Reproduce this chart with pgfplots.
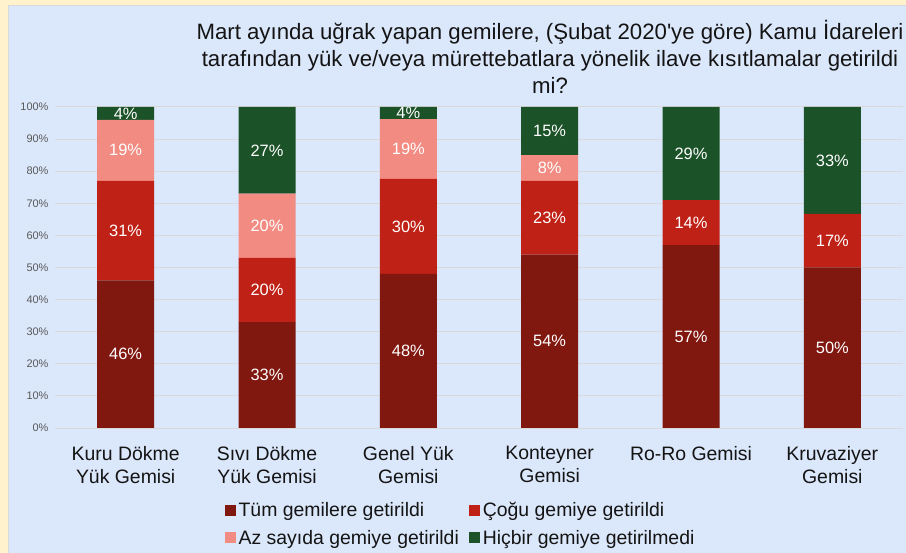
\documentclass[border=0pt]{standalone}
\usepackage{pgfplots}
\pgfplotsset{compat=1.18}
\usepackage{pgfplotstable}
\usepackage{fontspec}
\setmainfont{Liberation Sans}
\definecolor{cTum}{RGB}{128,24,16}
\definecolor{cCogu}{RGB}{192,33,22}
\definecolor{cAz}{RGB}{242,139,130}
\definecolor{cHic}{RGB}{27,82,40}
\definecolor{bgblue}{RGB}{219,231,250}
\definecolor{cream}{RGB}{255,242,204}
\definecolor{gridgray}{RGB}{217,217,217}
\definecolor{tickgray}{RGB}{89,89,89}
\definecolor{txt}{RGB}{20,20,20}
\pgfplotstableread{
x tum cogu az hic
0 46 31 19 4
1 33 20 20 27
2 48 29.6 18.6 3.8
3 54 23 8 15
4 57 14 0 29
5 50 16.7 0 33.3
}\data
\begin{document}
\begin{tikzpicture}
\useasboundingbox (0,0) rectangle (906bp,553bp);
\fill[cream] (0,0) rectangle (906bp,553bp);
\fill[bgblue, draw=gridgray, line width=0.6bp] (8bp,-1bp) rectangle (907bp,548bp);
\node[align=center, text=txt, font=\fontsize{22.3}{27}\selectfont] at (550bp,496bp)
 {Mart ayında uğrak yapan gemilere, (Şubat 2020\textquotesingle ye göre) Kamu İdareleri\\
  tarafından yük ve/veya mürettebatlara yönelik ilave kısıtlamalar getirildi\\ mi?};
\begin{axis}[
  at={(55bp,125bp)}, anchor=south west,
  scale only axis, width=848bp, height=321bp,
  ybar stacked, bar width=57bp,
  xmin=-0.5, xmax=5.5, ymin=0, ymax=100,
  xtick={0,1,2,3,4,5},
  xticklabels={Kuru Dökme\\Yük Gemisi, Sıvı Dökme\\Yük Gemisi, Genel Yük\\Gemisi, Konteyner\\Gemisi, Ro-Ro Gemisi, Kruvaziyer\\Gemisi},
  xticklabel style={align=center, anchor=north, text=txt, font=\fontsize{19.5}{23}\selectfont, yshift=-15bp},
  ytick={0,10,...,100},
  yticklabels={0\%,10\%,20\%,30\%,40\%,50\%,60\%,70\%,80\%,90\%,100\%},
  yticklabel style={text=tickgray, font=\fontsize{11}{13}\selectfont, xshift=-3bp},
  ymajorgrids, grid style={color=gridgray, line width=1bp},
  axis line style={draw=none},
  major tick length=0pt,
  tick style={draw=none},
  nodes near coords={\pgfmathparse{\segval>0.5 ? 1 : 0}\ifnum\pgfmathresult=1 \pgfmathprintnumber[fixed,precision=0,assume math mode=true]{\segval}\%\fi},
  every node near coord/.append style={anchor=center, text=white, font=\fontsize{16.5}{18}\selectfont},
  every axis plot post/.append style={legend image code/.code={\path[##1,draw=none] (0bp,-5.5bp) rectangle (11bp,5.5bp);}},
  legend columns=2,
  legend cell align=left,
  legend style={at={(axis description cs:0.4788,-0.299)}, anchor=center, draw=none, fill=none,
    font=\fontsize{19.5}{23}\selectfont, text=txt, row sep=10bp,
    /tikz/every even column/.append style={column sep=7bp},
    nodes={inner xsep=3bp, inner ysep=1bp}},
]
\addplot[fill=cTum, draw=none, visualization depends on={\thisrow{tum} \as \segval}] table[x=x,y=tum] {\data};
\addlegendentry{Tüm gemilere getirildi}
\addplot[fill=cCogu, draw=none, visualization depends on={\thisrow{cogu} \as \segval}] table[x=x,y=cogu] {\data};
\addlegendentry{Çoğu gemiye getirildi}
\addplot[fill=cAz, draw=none, visualization depends on={\thisrow{az} \as \segval}] table[x=x,y=az] {\data};
\addlegendentry{Az sayıda gemiye getirildi}
\addplot[fill=cHic, draw=none, visualization depends on={\thisrow{hic} \as \segval}] table[x=x,y=hic] {\data};
\addlegendentry{Hiçbir gemiye getirilmedi}
\end{axis}
\end{tikzpicture}
\end{document}
